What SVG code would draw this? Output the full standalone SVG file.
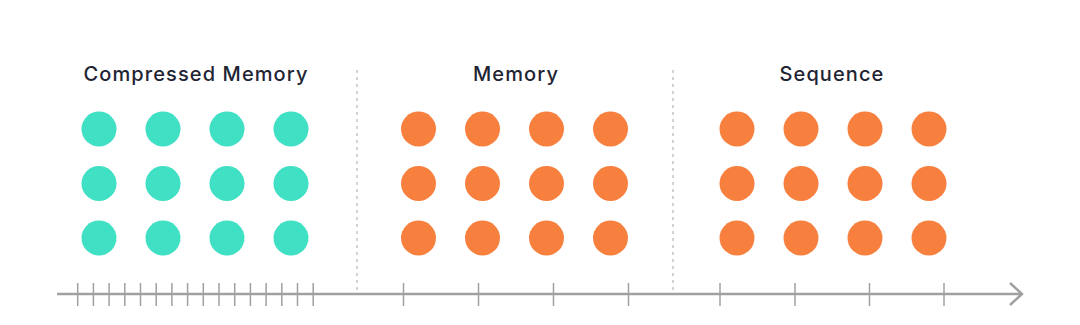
<svg xmlns="http://www.w3.org/2000/svg" width="1080" height="325" viewBox="0 0 1080 325">
<style>
.t{font-family:Inter,"Open Sans","Liberation Sans",sans-serif;font-size:20px;font-weight:500;fill:#1f2433;text-anchor:middle;letter-spacing:1.1px}
.g{fill:#40E0C4}
.o{fill:#F7803F}
.sep{stroke:#c4c4c4;stroke-width:1.5;stroke-dasharray:3 4}
.ax{stroke:#a0a0a0;stroke-width:2.5;fill:none}
.tk{stroke:#a0a0a0;stroke-width:1.5}
</style>
<defs>
<g id="grid">
<circle cx="0" cy="0" r="17.5"/><circle cx="64" cy="0" r="17.5"/><circle cx="128" cy="0" r="17.5"/><circle cx="192" cy="0" r="17.5"/>
<circle cx="0" cy="54.5" r="17.5"/><circle cx="64" cy="54.5" r="17.5"/><circle cx="128" cy="54.5" r="17.5"/><circle cx="192" cy="54.5" r="17.5"/>
<circle cx="0" cy="109" r="17.5"/><circle cx="64" cy="109" r="17.5"/><circle cx="128" cy="109" r="17.5"/><circle cx="192" cy="109" r="17.5"/>
</g>
</defs>
<rect width="1080" height="325" fill="#ffffff"/>
<g id="compressed-memory">
<text class="t" x="196" y="81">Compressed Memory</text>
<use href="#grid" class="g" x="99" y="129"/>
</g>
<g id="memory">
<text class="t" x="516" y="81">Memory</text>
<use href="#grid" class="o" x="418.5" y="129"/>
</g>
<g id="sequence">
<text class="t" x="832" y="81">Sequence</text>
<use href="#grid" class="o" x="737" y="129"/>
</g>
<g id="separators">
<line class="sep" x1="357" y1="70" x2="357" y2="290"/>
<line class="sep" x1="673" y1="70" x2="673" y2="290"/>
</g>
<g id="axis">
<line class="ax" x1="57" y1="294" x2="1021" y2="294"/>
<polyline class="ax" points="1010,283 1022,294 1010,305"/>
<g class="tk">
<line x1="77.7" y1="283" x2="77.7" y2="306"/>
<line x1="93.4" y1="283" x2="93.4" y2="306"/>
<line x1="109.1" y1="283" x2="109.1" y2="306"/>
<line x1="124.8" y1="283" x2="124.8" y2="306"/>
<line x1="140.5" y1="283" x2="140.5" y2="306"/>
<line x1="156.2" y1="283" x2="156.2" y2="306"/>
<line x1="171.9" y1="283" x2="171.9" y2="306"/>
<line x1="187.6" y1="283" x2="187.6" y2="306"/>
<line x1="203.3" y1="283" x2="203.3" y2="306"/>
<line x1="219" y1="283" x2="219" y2="306"/>
<line x1="234.7" y1="283" x2="234.7" y2="306"/>
<line x1="250.4" y1="283" x2="250.4" y2="306"/>
<line x1="266.1" y1="283" x2="266.1" y2="306"/>
<line x1="281.8" y1="283" x2="281.8" y2="306"/>
<line x1="297.5" y1="283" x2="297.5" y2="306"/>
<line x1="313.2" y1="283" x2="313.2" y2="306"/>
<line x1="403.5" y1="283" x2="403.5" y2="306"/>
<line x1="478.5" y1="283" x2="478.5" y2="306"/>
<line x1="553.5" y1="283" x2="553.5" y2="306"/>
<line x1="628.5" y1="283" x2="628.5" y2="306"/>
<line x1="720" y1="283" x2="720" y2="306"/>
<line x1="795" y1="283" x2="795" y2="306"/>
<line x1="869.5" y1="283" x2="869.5" y2="306"/>
<line x1="944" y1="283" x2="944" y2="306"/>
</g>
</g>
</svg>
